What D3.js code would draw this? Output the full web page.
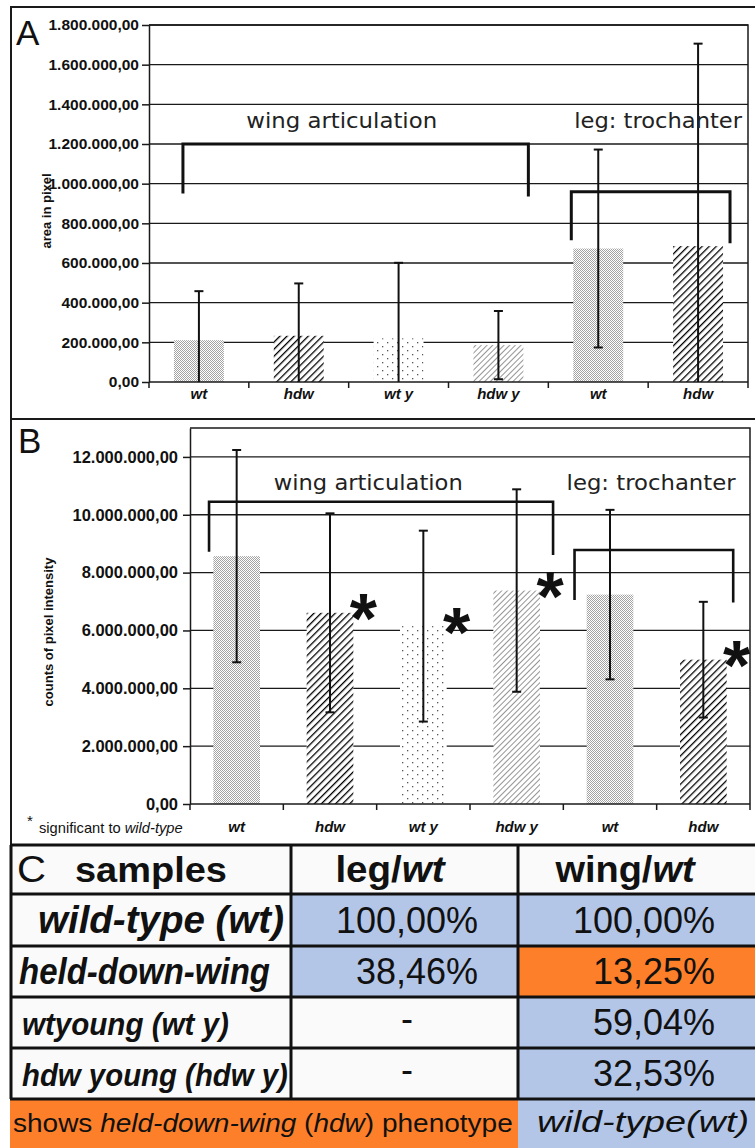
<!DOCTYPE html>
<html>
<head>
<meta charset="utf-8">
<script src="https://cdn.jsdelivr.net/npm/d3@7"></script>
<style>
  body { margin: 0; background: #fff; }
  svg { display: block; font-family: "Liberation Sans", Arial, Helvetica, sans-serif; }
</style>
</head>
<body>
<div id="chart"></div>
<script>
// ---- data ----
const categories = ["wt", "hdw", "wt y", "hdw y", "wt", "hdw"];

// A: area in pixel (mean, standard deviation)
const areaMean = [211000, 233000, 220000, 186000, 673000, 685000];
const areaSd = [247000, 264000, 381000, 172000, 499000, 1021000];
const areaTicks = [0, 200000, 400000, 600000, 800000, 1000000, 1200000, 1400000, 1600000, 1800000];

// B: counts of pixel intensity
const intensityMean = [8570000, 6610000, 6150000, 7380000, 7240000, 4990000];
const intensitySd = [3670000, 3440000, 3300000, 3500000, 2930000, 2000000];
const intensityTicks = [0, 2000000, 4000000, 6000000, 8000000, 10000000, 12000000];
const significant = [false, true, true, true, false, true];

// C: table
const sampleNames = ["wild-type (wt)", "held-down-wing", "wtyoung (wt y)", "hdw young (hdw y)"];
const legRatio = ["100,00%", "38,46%", "-", "-"];
const wingRatio = ["100,00%", "13,25%", "59,04%", "32,53%"];
const legCall = ["wt", "wt", "", ""];
const wingCall = ["wt", "hdw", "wt", "wt"];

// ---- setup ----
const W = 755, H = 1148;
const ink = "#1a1a1a";
const blue = "#b4c6e7", orange = "#fd7f2a", paper = "#fafafa";
const fmt = d3.formatLocale({ decimal: ",", thousands: ".", grouping: [3], currency: ["", ""] }).format(",.2f");

const svg = d3.select("#chart").append("svg").attr("width", W).attr("height", H);
const defs = svg.append("defs");

function dots(id, w, h, pts, color, r) {
  const p = defs.append("pattern").attr("id", id).attr("patternUnits", "userSpaceOnUse")
    .attr("width", w).attr("height", h);
  p.append("rect").attr("width", w).attr("height", h).attr("fill", "#fff");
  pts.forEach(([px, py]) => p.append("rect").attr("x", px).attr("y", py)
    .attr("width", r).attr("height", r).attr("fill", color));
}
function hatch(id, gap, width, color) {
  const p = defs.append("pattern").attr("id", id).attr("patternUnits", "userSpaceOnUse")
    .attr("width", gap).attr("height", gap).attr("patternTransform", "rotate(45)");
  p.append("rect").attr("width", gap).attr("height", gap).attr("fill", "#fff");
  p.append("line").attr("x1", 0).attr("x2", 0).attr("y1", 0).attr("y2", gap)
    .attr("stroke", color).attr("stroke-width", width);
}
dots("denseDots", 4, 4, [[0, 0], [2, 0], [1, 1], [3, 1], [0, 2], [2, 2], [1, 3], [3, 3]], "#a3a3a3", 1);
dots("sparseDots", 10, 8, [[2, 2], [7, 6]], "#555", 1.3);
hatch("boldHatch", 5, 2.6, "#000");
hatch("thinHatch", 4, 1.1, "#3a3a3a");
const fills = ["denseDots", "boldHatch", "sparseDots", "thinHatch", "denseDots", "boldHatch"];

// stretch a text horizontally around its anchor so it spans `width`
function fit(text, ax, width) {
  const w = text.node().getBBox().width;
  if (w > 0) text.attr("transform", `translate(${ax},0) scale(${width / w},1) translate(${-ax},0)`);
  return text;
}

function drawPanel(o) {
  const n = categories.length;
  const x = d3.scaleBand().domain(d3.range(n)).range([o.left, o.right])
    .paddingInner(0.5).paddingOuter(0.25);
  const pos = d3.scaleLinear().domain([0, n]).range([o.left, o.right]);
  const y = d3.scaleLinear().domain([0, o.max]).range([o.bottom, o.top]);
  const g = svg.append("g");

  g.append("g").selectAll("line").data(o.ticks.filter(d => d > 0)).join("line")
    .attr("x1", o.left).attr("x2", o.right)
    .attr("y1", d => y(d)).attr("y2", d => y(d))
    .attr("stroke", ink).attr("stroke-width", 1.3);
  g.append("path").attr("d", `M${o.left},${y(o.max)}H${o.right}V${o.bottom}`)
    .attr("fill", "none").attr("stroke", ink).attr("stroke-width", 1.5);

  g.append("g").selectAll("rect").data(o.means).join("rect")
    .attr("x", (d, i) => x(i)).attr("width", x.bandwidth())
    .attr("y", d => y(d)).attr("height", d => o.bottom - y(d))
    .attr("fill", (d, i) => `url(#${fills[i]})`);

  const ax = g.append("g").attr("transform", `translate(${o.left},0)`)
    .call(d3.axisLeft(y).tickValues(o.ticks).tickFormat(fmt)
      .tickSize(7).tickPadding(o.tickPad).tickSizeOuter(0));
  ax.attr("font-family", null).attr("font-size", null);
  ax.select(".domain").attr("stroke", ink).attr("stroke-width", 1.5);
  ax.selectAll(".tick line").attr("stroke", ink).attr("stroke-width", 1.5);
  ax.selectAll(".tick text").attr("font-size", o.tickFont).attr("font-weight", "bold").attr("fill", "#111");

  g.append("line").attr("x1", o.left).attr("x2", o.right).attr("y1", o.bottom).attr("y2", o.bottom)
    .attr("stroke", ink).attr("stroke-width", 1.5);
  g.append("g").selectAll("line").data(d3.range(n + 1)).join("line")
    .attr("x1", d => pos(d)).attr("x2", d => pos(d))
    .attr("y1", o.bottom).attr("y2", o.bottom + 6)
    .attr("stroke", ink).attr("stroke-width", 1.5);
  g.append("g").selectAll("text").data(categories).join("text")
    .attr("x", (d, i) => x(i) + x.bandwidth() / 2).attr("y", o.labelBaseline)
    .attr("text-anchor", "middle").attr("font-size", 15)
    .attr("font-weight", "bold").attr("font-style", "italic").attr("fill", "#111")
    .text(d => d);

  // error bars
  const errs = o.means.map((m, i) => ({
    cx: x(i) + x.bandwidth() / 2, lo: Math.max(0, m - o.sds[i]), hi: m + o.sds[i]
  }));
  const eg = g.append("g").attr("stroke", "#111").attr("stroke-width", 2);
  eg.selectAll(".stem").data(errs).join("line")
    .attr("x1", d => d.cx).attr("x2", d => d.cx)
    .attr("y1", d => y(d.lo)).attr("y2", d => y(d.hi));
  eg.selectAll(".cap").data(errs.flatMap(d => d.lo > 0 ? [[d.cx, d.hi], [d.cx, d.lo]] : [[d.cx, d.hi]]))
    .join("line")
    .attr("x1", d => d[0] - 4.5).attr("x2", d => d[0] + 4.5)
    .attr("y1", d => y(d[1])).attr("y2", d => y(d[1]));

  // group brackets
  o.brackets.forEach(b => {
    g.append("path")
      .attr("d", `M${pos(b.from)},${y(b.ends[0])}V${y(b.top)}H${pos(b.to)}V${y(b.ends[1])}`)
      .attr("fill", "none").attr("stroke", "#111").attr("stroke-width", o.bracketWidth);
    const t = g.append("text").attr("x", pos(b.textAt)).attr("y", y(b.textY))
      .attr("text-anchor", "middle").attr("font-family", "'DejaVu Sans', sans-serif")
      .attr("font-size", 22).attr("fill", "#222").text(b.text);
    fit(t, pos(b.textAt), b.textW);
  });

  if (o.stars) {
    const fs = 70;
    g.append("g").selectAll("text").data(o.means.map((m, i) => ({ m, i })).filter(d => o.stars[d.i]))
      .join("text")
      .attr("x", d => x(d.i) + x.bandwidth() + 10)
      .attr("y", d => y(d.m) - 9 + 0.565 * fs)
      .attr("text-anchor", "middle").attr("font-size", fs).attr("font-weight", "bold")
      .attr("fill", "#111").text("*");
  }

  g.append("text")
    .attr("transform", `translate(${o.titleX},${o.titleY}) rotate(-90)`)
    .attr("text-anchor", "middle").attr("font-size", 13).attr("font-weight", "bold")
    .attr("fill", "#111").text(o.title);

  g.append("text").attr("x", o.letterPos[0]).attr("y", o.letterPos[1])
    .attr("font-size", 35).attr("fill", "#111").text(o.letter);
}

// ---- frames ----
svg.append("path").attr("d", "M11,845V7H760")
  .attr("fill", "none").attr("stroke", ink).attr("stroke-width", 2);
svg.append("line").attr("x1", 11).attr("x2", 760).attr("y1", 419).attr("y2", 419)
  .attr("stroke", ink).attr("stroke-width", 2);

drawPanel({
  left: 149, right: 748, top: 25, bottom: 382, max: 1800000,
  means: areaMean, sds: areaSd, ticks: areaTicks,
  tickFont: 15.5, tickPad: 3, labelBaseline: 399,
  title: "area in pixel", titleX: 51, titleY: 211,
  letter: "A", letterPos: [16, 45], bracketWidth: 3,
  brackets: [
    { from: 0.34, to: 3.8, top: 1200000, ends: [950000, 935000],
      text: "wing articulation", textAt: 1.93, textY: 1280000, textW: 191 },
    { from: 4.23, to: 5.82, top: 959000, ends: [715000, 700000],
      text: "leg: trochanter", textAt: 5.1, textY: 1280000, textW: 169 }
  ],
  stars: null
});

drawPanel({
  left: 190, right: 750, top: 428, bottom: 804, max: 13000000,
  means: intensityMean, sds: intensitySd, ticks: intensityTicks,
  tickFont: 16.5, tickPad: 5, labelBaseline: 832,
  title: "counts of pixel intensity", titleX: 53, titleY: 632,
  letter: "B", letterPos: [18, 453], bracketWidth: 2.6,
  brackets: [
    { from: 0.204, to: 3.89, top: 10450000, ends: [8720000, 8610000],
      text: "wing articulation", textAt: 1.91, textY: 10860000, textW: 189 },
    { from: 4.12, to: 5.82, top: 8780000, ends: [7050000, 6970000],
      text: "leg: trochanter", textAt: 4.94, textY: 10860000, textW: 170 }
  ],
  stars: significant
});

// footnote
svg.append("text").attr("x", 27).attr("y", 826).attr("font-size", 15).attr("fill", "#111").text("*");
const note = svg.append("text").attr("x", 39).attr("y", 833).attr("font-size", 14).attr("fill", "#111");
note.append("tspan").text("significant to ");
note.append("tspan").attr("font-style", "italic").text("wild-type");
fit(note, 39, 144);

// ---- C: table ----
const rowEdges = [845, 894, 946, 997, 1048, 1099, 1148];
const colEdges = [11, 291, 518, 760];
const callFill = { wt: blue, hdw: orange, "": paper };
const tg = svg.append("g");

tg.append("rect").attr("x", 11).attr("y", rowEdges[0]).attr("width", colEdges[3] - 11)
  .attr("height", rowEdges[5] - rowEdges[0]).attr("fill", paper);
sampleNames.forEach((s, i) => {
  const y0 = rowEdges[i + 1], h = rowEdges[i + 2] - y0;
  tg.append("rect").attr("x", colEdges[1]).attr("y", y0).attr("width", colEdges[2] - colEdges[1])
    .attr("height", h).attr("fill", callFill[legCall[i]]);
  tg.append("rect").attr("x", colEdges[2]).attr("y", y0).attr("width", colEdges[3] - colEdges[2])
    .attr("height", h).attr("fill", callFill[wingCall[i]]);
});
tg.append("rect").attr("x", 10).attr("y", rowEdges[5]).attr("width", colEdges[2] - 10)
  .attr("height", rowEdges[6] - rowEdges[5]).attr("fill", orange);
tg.append("rect").attr("x", colEdges[2]).attr("y", rowEdges[5]).attr("width", colEdges[3] - colEdges[2])
  .attr("height", rowEdges[6] - rowEdges[5]).attr("fill", blue);

// borders
tg.append("g").selectAll("line").data(rowEdges.slice(0, 6)).join("line")
  .attr("x1", 10).attr("x2", colEdges[3]).attr("y1", d => d).attr("y2", d => d)
  .attr("stroke", "#111").attr("stroke-width", 3);
tg.append("g").selectAll("line").data(colEdges.slice(0, 3)).join("line")
  .attr("x1", d => d).attr("x2", d => d).attr("y1", rowEdges[0]).attr("y2", rowEdges[5])
  .attr("stroke", "#111").attr("stroke-width", 3);

// header
const hb = rowEdges[1] - 12;
fit(tg.append("text").attr("x", 17).attr("y", hb).attr("font-size", 37).attr("fill", "#111").text("C"), 17, 29);
fit(tg.append("text").attr("x", 75).attr("y", hb).attr("font-size", 35).attr("font-weight", "bold")
  .attr("fill", "#111").text("samples"), 75, 152);
[["leg/", "wt", 390, 111], ["wing/", "wt", 625, 142]].forEach(([a, b, cx, w]) => {
  const t = tg.append("text").attr("x", cx).attr("y", hb).attr("text-anchor", "middle")
    .attr("font-size", 37).attr("font-weight", "bold").attr("fill", "#111");
  t.append("tspan").text(a);
  t.append("tspan").attr("font-style", "italic").text(b);
  fit(t, cx, w);
});

// body rows
const nameLayout = [[38, 38, 246], [36, 19, 251], [31, 22, 207], [31, 22, 266]];
sampleNames.forEach((s, i) => {
  const base = rowEdges[i + 2] - 13;
  const [fs, x0, w] = nameLayout[i];
  const t = tg.append("text").attr("x", x0).attr("y", base).attr("font-size", fs)
    .attr("font-weight", "bold").attr("font-style", "italic").attr("fill", "#111").text(s);
  fit(t, x0, w);
  const leg = legRatio[i];
  tg.append("text").attr("x", leg === "-" ? 407 : 478).attr("y", leg === "-" ? base - 4 : base)
    .attr("text-anchor", leg === "-" ? "middle" : "end")
    .attr("font-size", 36).attr("fill", "#111").text(leg);
  tg.append("text").attr("x", 715).attr("y", base).attr("text-anchor", "end")
    .attr("font-size", 36).attr("fill", "#111").text(wingRatio[i]);
});

// legend row
const lb = rowEdges[6] - 16;
const l1 = tg.append("text").attr("x", 13).attr("y", lb).attr("font-size", 26).attr("fill", "#111");
l1.append("tspan").text("shows ");
l1.append("tspan").attr("font-style", "italic").text("held-down-wing");
l1.append("tspan").text(" (");
l1.append("tspan").attr("font-style", "italic").text("hdw");
l1.append("tspan").text(") phenotype");
fit(l1, 13, 500);
fit(tg.append("text").attr("x", 537).attr("y", lb).attr("font-size", 30).attr("font-style", "italic")
  .attr("fill", "#111").text("wild-type(wt)"), 537, 212);
</script>
</body>
</html>
